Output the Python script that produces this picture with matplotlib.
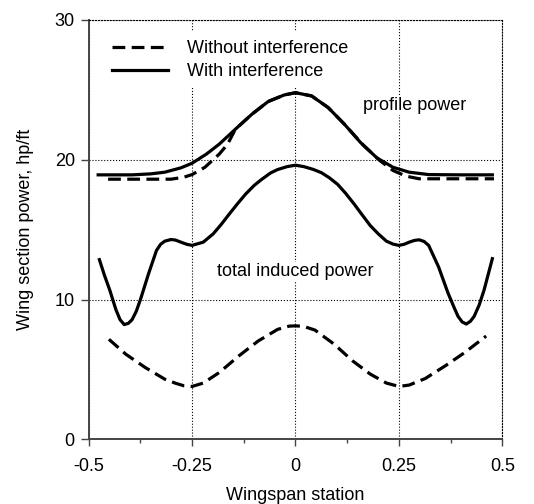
import numpy as np
import matplotlib
matplotlib.use('Agg')
import matplotlib.pyplot as plt

plt.rcParams['font.family'] = ['Liberation Sans', 'DejaVu Sans']
plt.rcParams['font.size'] = 13

# total induced power, with interference
ind_with_x = [-0.474, -0.462, -0.449, -0.434, -0.424, -0.414, -0.404, -0.395, -0.385, -0.375,
              -0.355, -0.336, -0.326, -0.316, -0.301, -0.290, -0.277, -0.263, -0.25, -0.223,
              -0.199, -0.180, -0.160, -0.140, -0.121, -0.100, -0.082, -0.060, -0.043, -0.020, 0.0,
              0.020, 0.043, 0.063, 0.082, 0.102, 0.121, 0.142, 0.160, 0.181, 0.200,
              0.220, 0.236, 0.25, 0.263, 0.275, 0.287, 0.299, 0.311, 0.322, 0.346, 0.369, 0.384,
              0.393, 0.403, 0.413, 0.423, 0.432, 0.444, 0.456, 0.466, 0.476]
ind_with_y = [12.85, 11.75, 10.68, 9.27, 8.56, 8.21, 8.30, 8.56, 9.15, 9.98,
              11.86, 13.51, 13.95, 14.17, 14.29, 14.25, 14.10, 13.95, 13.87, 14.10,
              14.69, 15.35, 16.11, 16.85, 17.52, 18.15, 18.58, 19.05, 19.29, 19.50, 19.60,
              19.50, 19.30, 19.06, 18.70, 18.23, 17.60, 16.82, 16.10, 15.28, 14.70,
              14.17, 13.96, 13.87, 13.95, 14.10, 14.22, 14.27, 14.15, 13.87, 12.33, 10.45, 9.40,
              8.80, 8.40, 8.25, 8.45, 8.80, 9.60, 10.68, 11.80, 12.92]

# total induced power, without interference
ind_without_x = [-0.451, -0.410, -0.363, -0.316, -0.290, -0.270, -0.25, -0.223, -0.184, -0.137,
                 -0.090, -0.043, -0.015, 0.0, 0.020, 0.047, 0.094, 0.138, 0.181, 0.220,
                 0.25, 0.275, 0.314, 0.362, 0.409, 0.461]
ind_without_y = [7.16, 6.09, 5.14, 4.31, 4.02, 3.84, 3.79, 4.03, 4.79, 5.97,
                 7.04, 7.87, 8.10, 8.12, 8.08, 7.82, 6.80, 5.62, 4.67, 4.03,
                 3.79, 3.89, 4.36, 5.26, 6.21, 7.39]

# profile power, with interference
prof_with_x = [-0.477, -0.395, -0.350, -0.316, -0.277, -0.25, -0.215, -0.184, -0.145, -0.105,
               -0.066, -0.027, 0.0, 0.039, 0.079, 0.118, 0.157, 0.197, 0.236, 0.275,
               0.322, 0.400, 0.476]
prof_with_y = [18.91, 18.91, 18.98, 19.10, 19.41, 19.74, 20.40, 21.11, 22.18, 23.25,
               24.15, 24.62, 24.78, 24.55, 23.72, 22.54, 21.23, 20.12, 19.45, 19.10,
               18.93, 18.91, 18.91]

# profile power, without interference
prof_without_x = [-0.453, -0.301, -0.270, -0.25, -0.219, -0.184, -0.164, -0.145, -0.105, -0.066,
                  -0.027, 0.0, 0.039, 0.079, 0.118, 0.165, 0.204, 0.236, 0.267, 0.299, 0.480]
prof_without_y = [18.60, 18.60, 18.74, 18.93, 19.45, 20.40, 21.11, 22.18, 23.25, 24.15,
                  24.62, 24.78, 24.55, 23.72, 22.54, 21.00, 19.93, 19.22, 18.82, 18.63, 18.63]

fig = plt.figure(figsize=(5.34, 5.04), dpi=100)
ax = fig.add_axes([0.166, 0.128, 0.7746, 0.833])

style = dict(color='black', lw=2.3, solid_joinstyle='round', dash_joinstyle='round', zorder=3)
dash = (4, 2)
ax.plot(prof_without_x, prof_without_y, dashes=dash, label='Without interference', **style)
ax.plot(prof_with_x, prof_with_y, label='With interference', **style)
ax.plot(ind_without_x, ind_without_y, dashes=dash, **style)
ax.plot(ind_with_x, ind_with_y, **style)

ax.set_xlim(-0.5, 0.5)
ax.set_ylim(0, 30)
ax.set_xticks([-0.5, -0.25, 0, 0.25, 0.5])
ax.set_xticklabels(['-0.5', '-0.25', '0', '0.25', '0.5'])
ax.set_xticks(np.arange(-0.375, 0.5, 0.25), minor=True)
ax.set_yticks([0, 10, 20, 30])

ax.grid(True, which='major', color='black', linestyle=':', linewidth=0.8)
for side in ['top', 'right']:
    ax.spines[side].set_linestyle(':')
    ax.spines[side].set_linewidth(0.8)
for side in ['left', 'bottom']:
    ax.spines[side].set_color('#444444')
    ax.spines[side].set_linewidth(1.4)

ax.tick_params(axis='x', which='major', direction='out', length=5, width=1, pad=8, colors='#444444',
               labelcolor='black')
ax.tick_params(axis='x', which='minor', direction='out', length=3, width=1, colors='#444444')
ax.tick_params(axis='y', which='major', direction='out', length=6, width=1, pad=4, colors='#444444',
               labelcolor='black')

ax.text(0.164, 23.9, 'profile power', ha='left', va='center',
        bbox=dict(facecolor='white', edgecolor='none', pad=1), zorder=2.6)
ax.text(0.0, 12.0, 'total induced power', ha='center', va='center',
        bbox=dict(facecolor='white', edgecolor='none', pad=1), zorder=2.6)

ax.set_xlabel('Wingspan station')
ax.set_ylabel('Wing section power, hp/ft')
ax.xaxis.set_label_coords(0.5, -0.112)
ax.yaxis.set_label_coords(-0.132, 0.5)

leg = ax.legend(loc='upper left', bbox_to_anchor=(0.037, 0.971), frameon=True, fancybox=False,
                framealpha=1, edgecolor='none', borderpad=0.45, handlelength=3.1,
                handletextpad=1.05, labelspacing=0.35, borderaxespad=0)
leg.set_zorder(5)

fig.savefig('out.png', dpi=100)
